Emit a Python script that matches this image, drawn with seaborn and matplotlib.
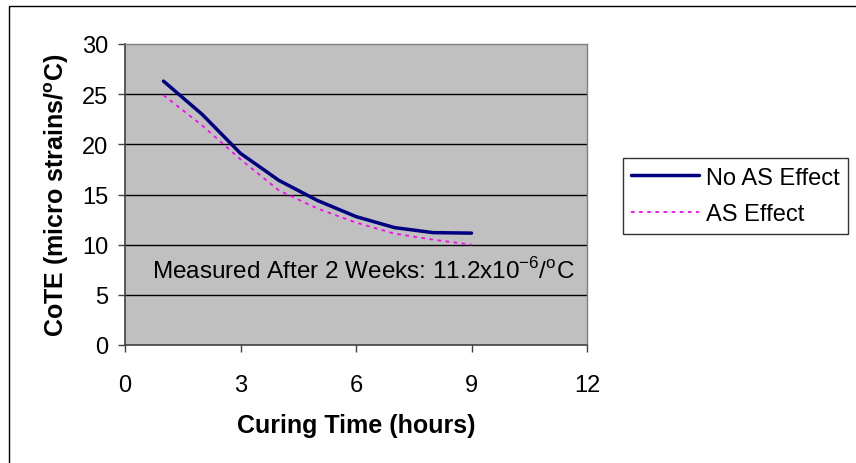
import matplotlib
matplotlib.use("Agg")
import matplotlib.pyplot as plt
import seaborn as sns
import pandas as pd
from matplotlib.patches import Rectangle

hours = [1, 2, 3, 4, 5, 6, 7, 8, 9]
no_as_effect = [26.3, 23.0, 19.1, 16.4, 14.4, 12.8, 11.7, 11.2, 11.15]
as_effect = [24.9, 21.9, 18.5, 15.4, 13.6, 12.2, 11.1, 10.5, 10.0]
series_names = ["No AS Effect", "AS Effect"]
x_ticks = [0, 3, 6, 9, 12]
y_ticks = [0, 5, 10, 15, 20, 25, 30]

df = pd.DataFrame({
    "hours": hours * 2,
    "cote": no_as_effect + as_effect,
    "series": [series_names[0]] * len(hours) + [series_names[1]] * len(hours),
})

sns.set_theme(style="white")
plt.rcParams["font.family"] = ["Liberation Sans", "DejaVu Sans"]
plt.rcParams["text.color"] = "black"
plt.rcParams["axes.labelcolor"] = "black"
plt.rcParams["xtick.color"] = "black"
plt.rcParams["ytick.color"] = "black"

fig = plt.figure(figsize=(8.56, 4.64), dpi=100)
ax = fig.add_axes([125 / 856, 1 - 346 / 464, (587 - 125) / 856, (346 - 45) / 464])
ax.set_facecolor("#C0C0C0")

sns.lineplot(data=df[df.series == series_names[0]], x="hours", y="cote", ax=ax,
             color="#000080", linewidth=2.5, label=series_names[0])
sns.lineplot(data=df[df.series == series_names[1]], x="hours", y="cote", ax=ax,
             color="#FF00FF", linewidth=1.3, linestyle=(0, (2, 2.5)), label=series_names[1])

ax.set_xlim(0, 12)
ax.set_ylim(0, 30)
ax.set_xticks(x_ticks)
ax.set_yticks(y_ticks)
ax.tick_params(axis="both", labelsize=17, labelcolor="black", direction="out", length=5, width=1,
               color="#404040", bottom=True, left=True)
ax.tick_params(axis="x", pad=16)
ax.tick_params(axis="y", pad=7)
for yv in y_ticks[1:-1]:
    ax.axhline(yv, color="black", linewidth=1, zorder=1)
for s in ["left", "bottom"]:
    ax.spines[s].set_color("#404040")
    ax.spines[s].set_linewidth(1.2)
for s in ["top", "right"]:
    ax.spines[s].set_color("#808080")
    ax.spines[s].set_linewidth(1)

ax.set_xlabel("Curing Time (hours)", fontsize=18, fontweight="bold", labelpad=12)
ax.set_ylabel("CoTE (micro strains/$^\\mathregular{o}$C)", fontsize=18, fontweight="bold", labelpad=8)

ax.text(0.7, 7.5, "Measured After 2 Weeks: 11.2x10$^\\mathregular{-6}$/$^\\mathregular{o}$C",
        fontsize=17.5, va="center", ha="left", color="black")

leg = ax.legend(loc="center left", bbox_to_anchor=(623 / 856, 1 - 197 / 464),
                bbox_transform=fig.transFigure, borderaxespad=0, fontsize=17, frameon=True,
                fancybox=False, edgecolor="black", handlelength=2.85,
                borderpad=0.35, labelspacing=0.62, handletextpad=0.3)
leg.get_frame().set_linewidth(1)
for t in leg.get_texts():
    t.set_color("black")

fig.patches.append(Rectangle((9 / 856, -0.05), 1.1, 1 - 6.5 / 464 + 0.05,
                             transform=fig.transFigure, fill=False,
                             edgecolor="black", linewidth=1))

fig.savefig("out.png", dpi=100)
